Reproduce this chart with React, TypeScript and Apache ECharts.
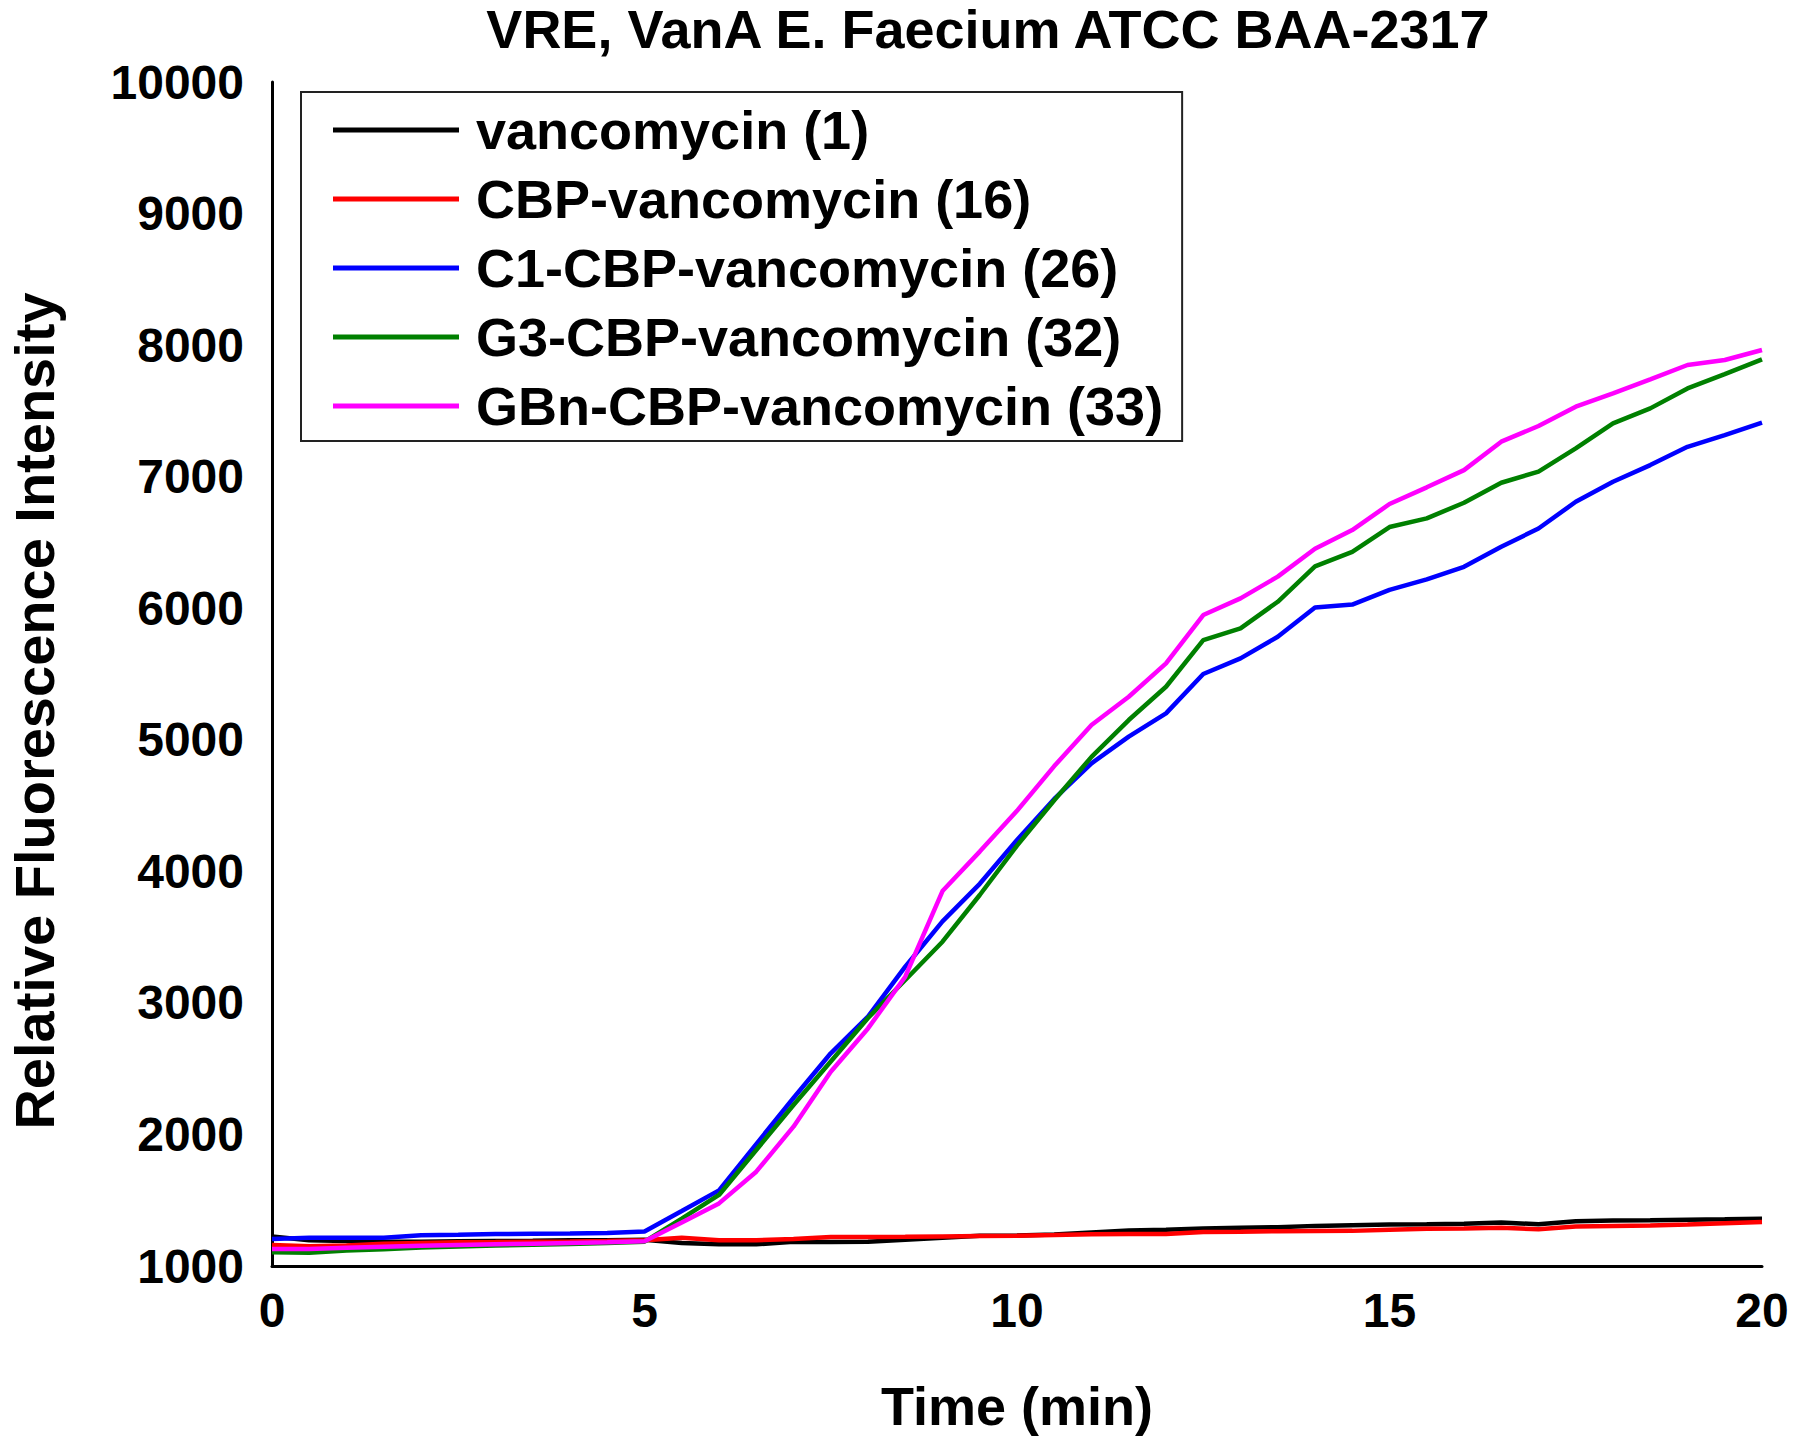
import React, { useEffect, useRef } from "react";
import * as echarts from "echarts";

const TITLE = "VRE, VanA E. Faecium ATCC BAA-2317";
const X_NAME = "Time (min)";
const Y_NAME = "Relative Fluorescence Intensity";

const times = [
  0, 0.5, 1, 1.5, 2, 2.5, 3, 3.5, 4, 4.5, 5, 5.5, 6, 6.5, 7, 7.5, 8, 8.5, 9, 9.5,
  10, 10.5, 11, 11.5, 12, 12.5, 13, 13.5, 14, 14.5, 15, 15.5, 16, 16.5, 17, 17.5,
  18, 18.5, 19, 19.5, 20,
];

const seriesNames = [
  "vancomycin (1)",
  "CBP-vancomycin (16)",
  "C1-CBP-vancomycin (26)",
  "G3-CBP-vancomycin (32)",
  "GBn-CBP-vancomycin (33)",
];

const seriesColors = ["#000000", "#FF0000", "#0000FF", "#008000", "#FF00FF"];

const vancomycin = [
  1225, 1195, 1190, 1185, 1185, 1188, 1190, 1192, 1195, 1195, 1200, 1175, 1165,
  1165, 1185, 1183, 1185, 1200, 1215, 1230, 1232, 1240, 1255, 1270, 1275, 1285,
  1290, 1295, 1305, 1310, 1315, 1318, 1322, 1330, 1318, 1340, 1345, 1348, 1352,
  1355, 1360,
];

const cbpVancomycin = [
  1160, 1150, 1155, 1170, 1175, 1180, 1182, 1185, 1187, 1190, 1195, 1215, 1196,
  1196, 1205, 1220, 1220, 1222, 1225, 1228, 1230, 1235, 1242, 1243, 1243, 1258,
  1260, 1265, 1266, 1267, 1275, 1283, 1285, 1290, 1280, 1300, 1305, 1308, 1315,
  1325, 1335,
];

const c1CbpVancomycin = [
  1205, 1215, 1215, 1215, 1233, 1237, 1243, 1245, 1247, 1250, 1262, 1418, 1575,
  1927, 2277, 2617, 2896, 3275, 3620, 3905, 4238, 4550, 4821, 5024, 5201, 5500,
  5619, 5783, 6006, 6028, 6140, 6219, 6315, 6467, 6606, 6809, 6961, 7088, 7227,
  7316, 7410,
];

const g3CbpVancomycin = [
  1104, 1101, 1117, 1127, 1140, 1148, 1155, 1162, 1168, 1175, 1185, 1360, 1540,
  1882, 2224, 2554, 2885, 3174, 3465, 3820, 4195, 4540, 4870, 5150, 5403, 5758,
  5847, 6049, 6318, 6429, 6617, 6683, 6802, 6954, 7038, 7215, 7405, 7519, 7671,
  7780, 7892,
];

const gbnCbpVancomycin = [
  1129, 1129, 1139, 1147, 1154, 1160, 1165, 1170, 1175, 1180, 1188, 1330, 1476,
  1717, 2059, 2477, 2806, 3199, 3850, 4150, 4460, 4800, 5112, 5327, 5581, 5948,
  6075, 6240, 6452, 6594, 6792, 6919, 7050, 7266, 7385, 7532, 7633, 7740, 7849,
  7887, 7963,
];

const seriesValues = [
  vancomycin,
  cbpVancomycin,
  c1CbpVancomycin,
  g3CbpVancomycin,
  gbnCbpVancomycin,
];

const FONT = '"Liberation Sans", Arial, Helvetica, sans-serif';

export default function App() {
  const ref = useRef<HTMLDivElement>(null);

  useEffect(() => {
    if (!ref.current) return;
    const chart = echarts.init(ref.current, null, { renderer: "svg" });

    const series = seriesNames.map((name, i) => ({
      name,
      type: "line",
      data: times.map((t, j) => [t, seriesValues[i][j]]),
      symbol: "none",
      showSymbol: false,
      lineStyle: { color: seriesColors[i], width: 4.5 },
      itemStyle: { color: seriesColors[i] },
      z: 2 + i,
    }));

    chart.setOption({
      animation: false,
      backgroundColor: "#ffffff",
      grid: { left: 272, right: 38, top: 82, bottom: 180, containLabel: false },
      xAxis: {
        type: "value",
        min: 0,
        max: 20,
        interval: 5,
        axisLine: { show: true, onZero: false, lineStyle: { color: "#000", width: 3 } },
        axisTick: { show: false },
        splitLine: { show: false },
        axisLabel: {
          color: "#000",
          fontFamily: FONT,
          fontWeight: "bold",
          fontSize: 48,
          margin: 20,
          formatter: (v: number) => String(v),
        },
      },
      yAxis: {
        type: "value",
        min: 1000,
        max: 10000,
        interval: 1000,
        axisLine: { show: true, onZero: false, lineStyle: { color: "#000", width: 3 } },
        axisTick: { show: false },
        splitLine: { show: false },
        axisLabel: {
          color: "#000",
          fontFamily: FONT,
          fontWeight: "bold",
          fontSize: 48,
          margin: 28,
          formatter: (v: number) => String(v),
        },
      },
      legend: {
        show: true,
        orient: "vertical",
        left: 301,
        top: 92,
        padding: [11, 19, 8, 32],
        itemGap: 15,
        itemWidth: 126,
        itemHeight: 5,
        borderColor: "#222",
        borderWidth: 2,
        backgroundColor: "#fff",
        icon: "rect",
        data: seriesNames.map((n, i) => ({
          name: n,
          icon: "rect",
          itemStyle: { color: seriesColors[i] },
        })),
        textStyle: {
          color: "#000",
          fontFamily: FONT,
          fontWeight: "bold",
          fontSize: 54,
          lineHeight: 54,
          padding: [0, 0, 0, 12],
        },
      },
      graphic: [
        {
          type: "text",
          x: 988,
          y: 29,
          style: {
            text: TITLE,
            font: `bold 54px ${FONT}`,
            fill: "#000",
            textAlign: "center",
            textVerticalAlign: "middle",
          },
        },
        {
          type: "text",
          x: 1017,
          y: 1406,
          style: {
            text: X_NAME,
            font: `bold 54px ${FONT}`,
            fill: "#000",
            textAlign: "center",
            textVerticalAlign: "middle",
          },
        },
        {
          type: "text",
          x: 34,
          y: 711,
          rotation: Math.PI / 2,
          style: {
            text: Y_NAME,
            font: `bold 56px ${FONT}`,
            fill: "#000",
            textAlign: "center",
            textVerticalAlign: "middle",
          },
        },
      ],
      series,
    });

    return () => chart.dispose();
  }, []);

  return (
    <div
      ref={ref}
      style={{ position: "absolute", left: 0, top: 0, width: 1800, height: 1446 }}
    />
  );
}
